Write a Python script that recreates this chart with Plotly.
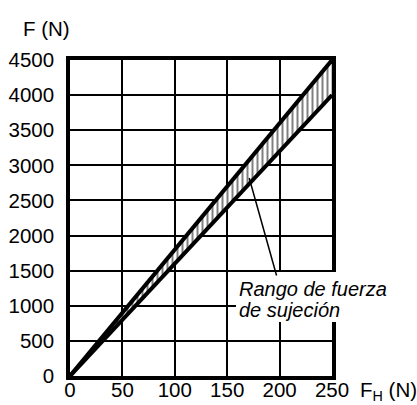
import plotly.graph_objects as go

# Data
fh = [0, 250]            # F_H (N)
f_min = [0, 4000]        # lower bound of clamping force (N)
f_max = [0, 4500]        # upper bound of clamping force (N)
x_ticks = [0, 50, 100, 150, 200, 250]
y_ticks = [0, 500, 1000, 1500, 2000, 2500, 3000, 3500, 4000, 4500]
label_lines = ["Rango de fuerza", "de sujeción"]

FONT = "Liberation Sans, Arial, Helvetica, sans-serif"
FS = 20.5

fig = go.Figure()
fig.add_trace(go.Scatter(x=fh, y=f_min, mode="lines",
                         line=dict(color="black", width=4), showlegend=False))
fig.add_trace(go.Scatter(x=fh, y=f_max, mode="lines", fill="tonexty",
                         fillcolor="white",
                         fillpattern=dict(shape="|", size=5, solidity=0.4,
                                          fgcolor="black", bgcolor="white"),
                         line=dict(color="black", width=4), showlegend=False))

axis_common = dict(showgrid=True, gridcolor="black", gridwidth=2,
                   showline=True, linecolor="black", linewidth=3.5, mirror=True,
                   zeroline=False, ticks="", automargin=False,
                   tickfont=dict(family=FONT, size=FS, color="black"))

fig.update_xaxes(range=[0, 250], tickvals=x_ticks, ticklabelstandoff=-7, **axis_common)
fig.update_yaxes(range=[0, 4500], tickvals=y_ticks, ticklabelstandoff=8, **axis_common)

# white cover box behind the label
fig.add_annotation(x=158, y=1480, xref="x", yref="y", xanchor="left", yanchor="top",
                   text=" ", showarrow=False, width=152, height=50, bgcolor="white",
                   borderpad=0, borderwidth=0)
fig.add_annotation(x=159.4, y=1239, xref="x", yref="y", xanchor="left", yanchor="middle",
                   text="<i>" + label_lines[0] + "</i>", showarrow=False,
                   font=dict(family=FONT, size=20, color="black"))
fig.add_annotation(x=159.4, y=940, xref="x", yref="y", xanchor="left", yanchor="middle",
                   text="<i>" + label_lines[1] + "</i>", showarrow=False,
                   font=dict(family=FONT, size=20, color="black"))
# leader line
fig.add_annotation(x=171, y=2820, xref="x", yref="y", ax=197.5, ay=1410,
                   axref="x", ayref="y", text="", showarrow=True, arrowhead=0,
                   arrowwidth=1.5, arrowcolor="black")

# axis titles
fig.add_annotation(x=(46 - 70) / 262, y=(376 - 29) / 316, xref="paper", yref="paper",
                   xanchor="center", yanchor="middle", text="F (N)", showarrow=False,
                   font=dict(family=FONT, size=FS, color="black"))
fig.add_annotation(x=1.0, y=0, xref="paper", yref="paper", xanchor="left", yanchor="top",
                   xshift=26, yshift=0,
                   text="F<sub>H</sub> (N)", showarrow=False,
                   font=dict(family=FONT, size=FS, color="black"))

fig.update_layout(width=417, height=405, margin=dict(l=70, r=85, t=60, b=29),
                  plot_bgcolor="white", paper_bgcolor="white",
                  font=dict(family=FONT, size=FS, color="black"))

fig.write_html("out.html", config={"displayModeBar": False},
               post_script="document.body.style.margin='0';document.body.style.overflow='hidden';")
